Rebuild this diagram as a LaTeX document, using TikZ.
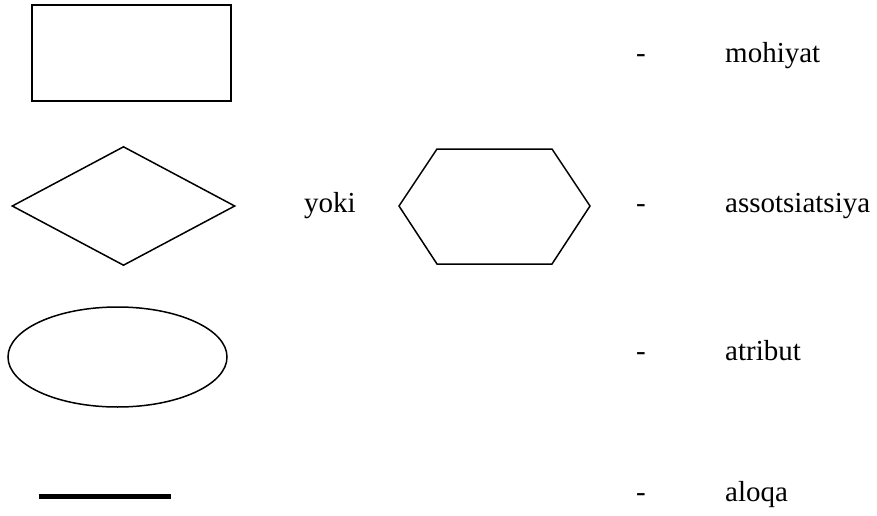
\documentclass[tikz,border=0pt]{standalone}
\usepackage{fontspec}
\setmainfont{Liberation Serif}
\usepackage{tikz}
\usetikzlibrary{shapes.geometric}
\tikzset{
  ershape/.style={draw, inner sep=0pt, line width=1.5pt},
  erlabel/.style={font=\fontsize{29}{34}\selectfont, anchor=base west, inner sep=0pt},
  erlink/.style={line width=5pt},
}

\begin{document}
\begin{tikzpicture}[x=1pt, y=-1pt]
  \useasboundingbox (0,0) rectangle (877,516);

  % symbols for entity, association and attribute
  \node[ershape, rectangle, line width=2pt, minimum width=199pt, minimum height=96pt] (entity) at (131.5,53) {};
  \node[ershape, diamond, minimum width=223pt, minimum height=119pt] (assoc) at (123.5,206) {};
  \node[ershape, ellipse, minimum width=219pt, minimum height=100pt] (attr) at (117.5,357) {};

  % hexagon, the other form of the association
  \draw[line width=1.5pt] (399,206) -- (437,149) -- (552,149) -- (590,206)
    -- (552,264) -- (437,264) -- cycle;

  % thick line for the link
  \coordinate (linkL) at (39,496);
  \coordinate (linkR) at (171,496);
  \draw[erlink] (linkL) -- (linkR);

  \node[erlabel] (or) at (304,212) {yoki};

  % legend text
  \node[erlabel] (dashA) at (636,63) {-};
  \node[erlabel] (dashB) at (636,212) {-};
  \node[erlabel] (dashC) at (636,360) {-};
  \node[erlabel] (dashD) at (636,501) {-};
  \node[erlabel] (mohiyat) at (725,63) {mohiyat};
  \node[erlabel] (assotsiatsiya) at (725,212) {assotsiatsiya};
  \node[erlabel] (atribut) at (725,360) {atribut};
  \node[erlabel] (aloqa) at (725,501) {aloqa};
\end{tikzpicture}
\end{document}
